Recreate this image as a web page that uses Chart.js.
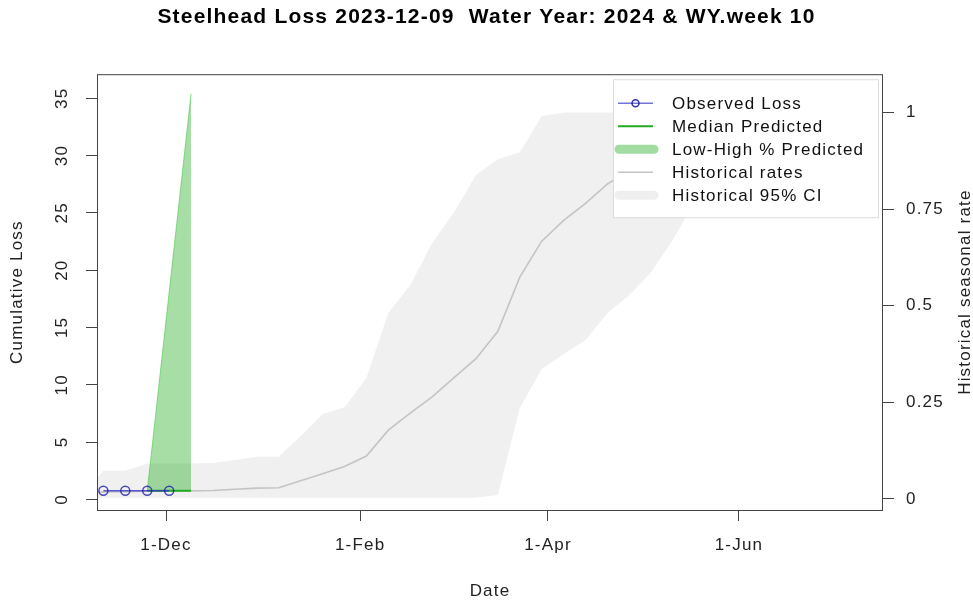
<!DOCTYPE html>
<html>
<head>
<meta charset="utf-8">
<script src="https://cdn.jsdelivr.net/npm/chart.js@4.4.0/dist/chart.umd.min.js"></script>
<style>
  html, body { margin: 0; padding: 0; background: #fff; }
  #wrap { width: 973px; height: 614px; }
</style>
</head>
<body>
<div id="wrap"><canvas id="chart"></canvas></div>
<script>
// observed weekly cumulative loss
const obsDates = ['2023-11-11', '2023-11-18', '2023-11-25', '2023-12-02'];
const obsLoss = [0.75, 0.75, 0.75, 0.75];

// predicted loss (median and low-high band)
const predDates = ['2023-11-25', '2023-12-09'];
const predMedian = [0.75, 0.75];
const predLow = [0.75, 0.75];
const predHigh = [0.75, 35.4];

// historical seasonal rate, weekly
const histDates = [
  '2023-11-04', '2023-11-11', '2023-11-18', '2023-11-25', '2023-12-02', '2023-12-09',
  '2023-12-16', '2023-12-23', '2023-12-30', '2024-01-06', '2024-01-13', '2024-01-20',
  '2024-01-27', '2024-02-03', '2024-02-10', '2024-02-17', '2024-02-24', '2024-03-02',
  '2024-03-09', '2024-03-16', '2024-03-23', '2024-03-30', '2024-04-06', '2024-04-13',
  '2024-04-20', '2024-04-27', '2024-05-04', '2024-05-11', '2024-05-18', '2024-05-25',
  '2024-06-01', '2024-06-08'
];
const histRate = [
  0.015, 0.018, 0.019, 0.020, 0.020, 0.021, 0.022, 0.025, 0.028, 0.029, 0.047, 0.065,
  0.084, 0.111, 0.178, 0.222, 0.264, 0.314, 0.363, 0.434, 0.574, 0.667, 0.721, 0.765,
  0.815, 0.850, 0.880, 0.910, 0.940, 0.960, 0.980, 1.000
];
const histUpper = [
  0.005, 0.073, 0.073, 0.092, 0.092, 0.092, 0.093, 0.101, 0.109, 0.109, 0.163, 0.220,
  0.237, 0.313, 0.481, 0.553, 0.662, 0.742, 0.838, 0.879, 0.897, 0.990, 1.000, 1.000,
  1.000, 1.000, 1.000, 1.000, 1.000, 1.000, 1.000, 1.000
];
const histLower = [
  0.003, 0.003, 0.003, 0.003, 0.003, 0.003, 0.003, 0.003, 0.003, 0.003, 0.003, 0.003,
  0.003, 0.003, 0.003, 0.003, 0.003, 0.003, 0.003, 0.010, 0.235, 0.336, 0.375, 0.411,
  0.481, 0.528, 0.587, 0.672, 0.770, 0.860, 0.930, 0.970
];

const tickDates = ['2023-12-01', '2024-02-01', '2024-04-01', '2024-06-01'];
const tickLabels = ['1-Dec', '1-Feb', '1-Apr', '1-Jun'];
const lossTicks = [0, 5, 10, 15, 20, 25, 30, 35];
const rateTicks = [0, 0.25, 0.5, 0.75, 1];

const FONT = "'Liberation Sans', Arial, sans-serif";
const SPACING = '1.2px';
const origin = Date.parse('2023-12-01');
const toDay = s => (Date.parse(s) - origin) / 86400000;
const pts = (dates, vals) => dates.map((d, i) => ({ x: toDay(d), y: vals[i] }));

const legendItems = [
  { text: 'Observed Loss', kind: 'obs' },
  { text: 'Median Predicted', kind: 'line', color: '#22aa22', width: 2 },
  { text: 'Low-High % Predicted', kind: 'thick', color: 'rgb(163,220,163)' },
  { text: 'Historical rates', kind: 'line', color: '#c4c4c4', width: 1.5 },
  { text: 'Historical 95% CI', kind: 'thick', color: '#efefef' }
];

const setSpacing = chart => {
  if ('letterSpacing' in chart.ctx) chart.ctx.letterSpacing = SPACING;
};

const rStyle = {
  id: 'rStyle',
  beforeUpdate: setSpacing,
  beforeDraw: setSpacing,
  afterDraw(chart) {
    const ctx = chart.ctx;
    const a = chart.chartArea;
    const yL = chart.scales.y;

    ctx.save();
    // plot box
    ctx.strokeStyle = '#444';
    ctx.lineWidth = 1;
    ctx.strokeRect(a.left + 0.5, a.top + 0.5, a.right - a.left - 1, a.bottom - a.top);

    // left tick labels, rotated like R
    ctx.fillStyle = '#222';
    ctx.font = '17px ' + FONT;
    ctx.textAlign = 'center';
    ctx.textBaseline = 'middle';
    lossTicks.forEach(v => {
      ctx.save();
      ctx.translate(62, yL.getPixelForValue(v));
      ctx.rotate(-Math.PI / 2);
      ctx.fillText(String(v), 0, 0);
      ctx.restore();
    });

    // right axis title
    ctx.save();
    ctx.translate(965, (a.top + a.bottom) / 2);
    ctx.rotate(-Math.PI / 2);
    ctx.fillText('Historical seasonal rate', 0, 0);
    ctx.restore();

    // legend
    const lx = a.right - 270, ly = a.top + 5, lw = 265, lh = 138;
    ctx.fillStyle = '#fff';
    ctx.fillRect(lx, ly, lw, lh);
    ctx.strokeStyle = '#dcdcdc';
    ctx.strokeRect(lx + 0.5, ly + 0.5, lw, lh);
    ctx.textAlign = 'left';
    legendItems.forEach((it, i) => {
      const y = ly + 24 + i * 23;
      const x0 = lx + 5, x1 = lx + 40;
      ctx.lineCap = 'butt';
      if (it.kind === 'obs') {
        ctx.strokeStyle = 'rgba(70,70,200,0.75)';
        ctx.lineWidth = 1.5;
        ctx.beginPath(); ctx.moveTo(x0, y); ctx.lineTo(x1, y); ctx.stroke();
        ctx.strokeStyle = 'rgba(30,30,160,0.9)';
        ctx.beginPath(); ctx.arc((x0 + x1) / 2, y, 3.5, 0, Math.PI * 2); ctx.stroke();
      } else if (it.kind === 'line') {
        ctx.strokeStyle = it.color;
        ctx.lineWidth = it.width;
        ctx.beginPath(); ctx.moveTo(x0, y); ctx.lineTo(x1, y); ctx.stroke();
      } else {
        ctx.strokeStyle = it.color;
        ctx.lineWidth = 9;
        ctx.lineCap = 'round';
        ctx.beginPath(); ctx.moveTo(x0 + 1, y); ctx.lineTo(x1 + 1, y); ctx.stroke();
      }
      ctx.fillStyle = '#111';
      ctx.fillText(it.text, lx + 59, y + 1);
    });
    ctx.restore();
  }
};

const ctx = document.getElementById('chart').getContext('2d');

new Chart(ctx, {
  type: 'line',
  data: {
    datasets: [
      {
        label: 'Observed Loss',
        data: pts(obsDates, obsLoss),
        yAxisID: 'y',
        borderColor: 'rgba(50,50,200,0.8)',
        borderWidth: 1.5,
        pointRadius: 4.5,
        pointBorderColor: 'rgba(30,30,170,0.8)',
        pointBorderWidth: 1.5,
        pointBackgroundColor: 'rgba(0,0,0,0)',
        fill: false
      },
      {
        label: 'Median Predicted',
        data: pts(predDates, predMedian),
        yAxisID: 'y',
        borderColor: '#22aa22',
        borderWidth: 2,
        pointRadius: 0,
        fill: false
      },
      {
        label: 'High Predicted',
        data: pts(predDates, predHigh),
        yAxisID: 'y',
        borderColor: 'rgba(40,190,40,0.6)',
        borderWidth: 0.8,
        backgroundColor: 'rgba(0,160,0,0.35)',
        pointRadius: 0,
        fill: '+1'
      },
      {
        label: 'Low Predicted',
        data: pts(predDates, predLow),
        yAxisID: 'y',
        borderWidth: 0,
        pointRadius: 0,
        fill: false
      },
      {
        label: 'Historical rates',
        data: pts(histDates, histRate),
        yAxisID: 'y2',
        borderColor: '#c4c4c4',
        borderWidth: 1.6,
        pointRadius: 0,
        fill: false
      },
      {
        label: 'Historical upper',
        data: pts(histDates, histUpper),
        yAxisID: 'y2',
        borderWidth: 0,
        backgroundColor: '#f0f0f0',
        pointRadius: 0,
        fill: '+1'
      },
      {
        label: 'Historical lower',
        data: pts(histDates, histLower),
        yAxisID: 'y2',
        borderWidth: 0,
        pointRadius: 0,
        fill: false
      }
    ]
  },
  options: {
    responsive: true,
    maintainAspectRatio: false,
    animation: false,
    events: [],
    layout: { padding: 0 },
    plugins: {
      legend: { display: false },
      tooltip: { enabled: false },
      title: {
        display: true,
        text: 'Steelhead Loss 2023-12-09  Water Year: 2024 & WY.week 10',
        color: '#000',
        font: { family: FONT, size: 21, weight: 'bold' },
        padding: { top: 5, bottom: 44 }
      }
    },
    scales: {
      x: {
        type: 'linear',
        position: 'bottom',
        min: toDay('2023-11-09') - 0.04,
        max: toDay('2024-07-17'),
        afterBuildTicks: s => { s.ticks = tickDates.map(d => ({ value: toDay(d) })); },
        afterFit: s => { s.height = 104; },
        ticks: {
          color: '#222',
          font: { family: FONT, size: 17 },
          padding: 14,
          maxRotation: 0,
          autoSkip: false,
          callback: (v, i) => tickLabels[i]
        },
        grid: { drawOnChartArea: false, drawTicks: true, tickLength: 11, color: '#444' },
        border: { display: false },
        title: {
          display: true,
          text: 'Date',
          color: '#222',
          font: { family: FONT, size: 17 },
          padding: { bottom: 12 }
        }
      },
      y: {
        type: 'linear',
        position: 'left',
        min: -0.93,
        max: 37.1,
        afterBuildTicks: s => { s.ticks = lossTicks.map(v => ({ value: v })); },
        afterFit: s => { s.width = 97; },
        ticks: { display: false },
        grid: { drawOnChartArea: false, drawTicks: true, tickLength: 11, color: '#444' },
        border: { display: false },
        title: {
          display: true,
          text: 'Cumulative Loss',
          color: '#222',
          font: { family: FONT, size: 17 },
          padding: { top: 7 }
        }
      },
      y2: {
        type: 'linear',
        position: 'right',
        min: -0.0285,
        max: 1.099,
        afterBuildTicks: s => { s.ticks = rateTicks.map(v => ({ value: v })); },
        afterFit: s => { s.width = 90; },
        ticks: {
          color: '#222',
          font: { family: FONT, size: 17 },
          padding: 12,
          callback: v => String(v)
        },
        grid: { drawOnChartArea: false, drawTicks: true, tickLength: 11, color: '#444' },
        border: { display: false }
      }
    }
  },
  plugins: [rStyle]
});
</script>
</body>
</html>
